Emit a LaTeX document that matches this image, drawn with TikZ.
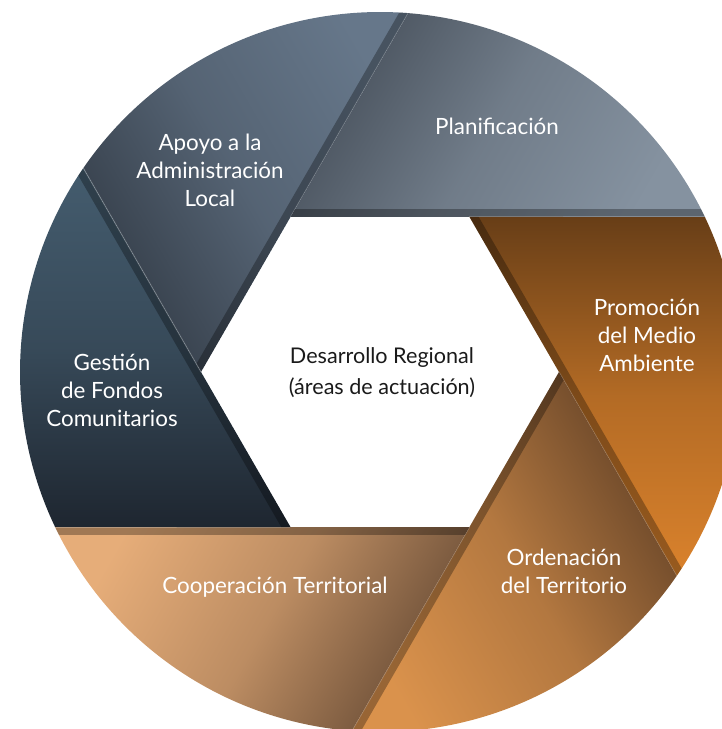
\documentclass[tikz,border=0pt]{standalone}
\usepackage{fontspec}
\setmainfont{Lato}
\usetikzlibrary{calc}

\definecolor{apoD}{HTML}{343D48}
\definecolor{apoL}{HTML}{66778A}
\definecolor{plaD}{HTML}{48515C}
\definecolor{plaL}{HTML}{8592A0}
\definecolor{proD}{HTML}{683E17}
\definecolor{proL}{HTML}{DA822C}
\definecolor{ordD}{HTML}{664428}
\definecolor{ordL}{HTML}{DA924C}
\definecolor{cooD}{HTML}{6A4D36}
\definecolor{cooL}{HTML}{E6AD79}
\definecolor{gesD}{HTML}{1E2630}
\definecolor{gesL}{HTML}{445C6E}
\definecolor{coretext}{HTML}{1A1A1A}

\begin{document}
\begin{tikzpicture}[x=0.5pt,y=0.5pt,
  blade/.style={text=white,align=center,font=\fontsize{11.2}{14}\selectfont}]
\useasboundingbox (-380,-357) rectangle (342,372);
\clip (-380,-357) rectangle (342,372);
%\draw[help lines,step=20] (-380,-357) grid (342,372);
\foreach \t/\d/\l in {180/apoD/apoL, 120/plaD/plaL, 60/proD/proL, 0/ordD/ordL, -60/cooD/cooL, -120/gesD/gesL}
{
  \pgfmathsetmacro\a{\t-34.5}
  \pgfmathsetmacro\b{\t-94.5}
  \pgfmathsetmacro\s{\t-60}
  \pgfmathsetmacro\e{\t-120}
  \pgfmathsetmacro\n{\t-30}
  \shade[top color=\d, bottom color=\l, middle color=\l!66!\d, shading angle=\s]
    (\t:179) -- (\a:360) arc[start angle=\a, end angle=\b, radius=360] -- (\s:179) -- cycle;
  \begin{scope}
    \clip (\t:179) -- (\a:360) arc[start angle=\a, end angle=\b, radius=360] -- (\s:179) -- cycle;
    \fill[black,opacity=.3] ($(\t:179)+(\e:-60)$) -- ($(\s:179)+(\e:300)$)
      -- ++(\n:8) -- ($(\t:179)+(\e:-60)+(\n:8)$) -- cycle;
  \end{scope}
  \draw[white,opacity=.25,line width=.5] (\s:179) -- ($(\s:179)+(\e:236)$);
}

\node[blade] (pla) at (117,246) {Planificación};
\node[blade] (apo) at (-170,202) {Apoyo a la\\Administración\\Local};
\node[blade] (ges) at (-268,-18) {Gestión\\de Fondos\\Comunitarios};
\node[blade] (coo) at (-105,-215) {Cooperación Territorial};
\node[blade] (ord) at (184,-199) {Ordenación\\del Territorio};
\node[blade] (pro) at (267,37) {Promoción\\del Medio\\Ambiente};
\node[align=center,text=coretext,font=\fontsize{10.8}{15.5}\selectfont] (core) at (2,-1)
  {Desarrollo Regional\\(áreas de actuación)};
\end{tikzpicture}
\end{document}
